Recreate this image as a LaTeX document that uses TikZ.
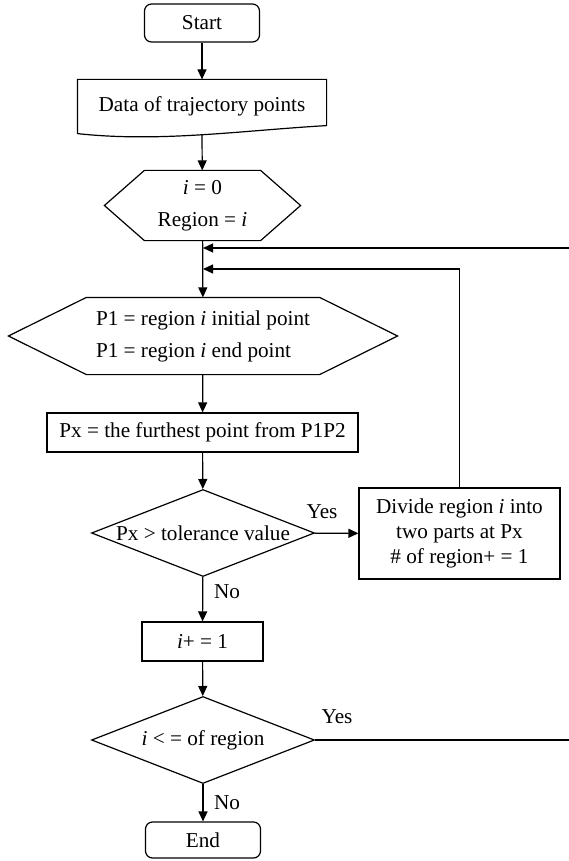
\documentclass[tikz,border=0pt]{standalone}
\usepackage{fontspec}
\setmainfont{Liberation Serif}
\usetikzlibrary{shapes.geometric, arrows.meta, positioning, calc}

\tikzset{
  terminal/.style={
    rectangle, rounded corners=3.5pt, draw, minimum width=57.5pt,
    minimum height=19pt, inner sep=0pt
  },
  process/.style={
    rectangle, draw, minimum height=19.5pt, inner sep=0pt, align=center
  },
  decision/.style={
    diamond, draw, aspect=2.56, inner sep=0pt,
    minimum width=111.5pt, minimum height=43.5pt
  },
  hexbox/.style={
    rectangle, inner sep=0pt
  },
  flow/.style={
    -{Triangle[length=5pt,width=4.5pt]}
  },
  lbl/.style={inner sep=0pt}
}

% outline of a hexagon round a named node, #2 = inset of the points
\newcommand{\hexoutline}[2]{%
  \draw (#1.west) -- ([xshift=#2]#1.north west) -- ([xshift=-#2]#1.north east)
    -- (#1.east) -- ([xshift=-#2]#1.south east) -- ([xshift=#2]#1.south west) -- cycle;}

\begin{document}
\begin{tikzpicture}[x=0.5pt, y=-0.5pt, line width=0.6pt,
    font=\fontsize{10.6pt}{12.7pt}\selectfont]

  \useasboundingbox (0,0) rectangle (568,861);

  \node[terminal] (start) at (202,23) {Start};

  % input data (document shape)
  \node[rectangle, minimum width=124pt, minimum height=26.5pt, inner sep=0pt]
    (data) at (202,106.5) {Data of trajectory points};
  \draw (data.south west) -- (data.north west) -- (data.north east)
    -- ([yshift=4pt]data.south east)
    .. controls ([xshift=-43pt,yshift=1.5pt]data.south east)
    and ([xshift=41pt,yshift=-4.5pt]data.south west) .. (data.south west);

  \node[hexbox, minimum width=97.5pt, minimum height=34.5pt, align=center]
    (init) at (202.5,205.5) {\textit{i} = 0\\[3.5pt]Region = \textit{i}};
  \hexoutline{init}{20pt}

  \node[hexbox, minimum width=194pt, minimum height=38pt, align=left]
    (ends) at (203,336)
    {P1 = region \textit{i} initial point\\[3.3pt]P1 = region \textit{i} end point};
  \hexoutline{ends}{39pt}

  \node[process, minimum width=155.5pt] (far) at (202.5,432.5)
    {Px = the furthest point from P1P2};
  \node[decision] (tol) at (203,533) {Px > tolerance value};
  \node[process, minimum width=100.5pt, minimum height=45.5pt] (split) at (459.5,533.5)
    {Divide region \textit{i} into\\two parts at Px\\\# of region+ = 1};
  \node[process, minimum width=60.5pt] (inc) at (202.5,641.5) {\textit{i}+ = 1};
  \node[decision] (more) at (203,740) {\textit{i} < = of region};
  \node[terminal, minimum height=18pt] (end) at (203,840) {End};

  % joints on the main line and the loop corner
  \coordinate (j1) at (203,248);
  \coordinate (j2) at (203,269);
  \coordinate (loopR) at (574,248);

  % main flow
  \draw[flow] (start) -- (data);
  \draw[flow] ([yshift=-0.8pt]data.south) -- (init);
  \draw[flow] (init) -- (ends);
  \draw[flow] (ends) -- (far);
  \draw[flow] (far) -- (tol);
  \draw[flow] (tol) -- (split);
  \draw[flow] (tol) -- (inc);
  \draw[flow] (inc) -- (more);
  \draw[flow] (more) -- (end);

  % loops back
  \draw[flow] (split.north) |- (j2);
  \draw[flow] (more.east) -| (loopR) -- (j1);

  % labels
  \node[lbl] (yes1) at (322,512) {Yes};
  \node[lbl] (no1) at (227,592) {No};
  \node[lbl] (yes2) at (337,717) {Yes};
  \node[lbl] (no2) at (227,803) {No};

\end{tikzpicture}
\end{document}
